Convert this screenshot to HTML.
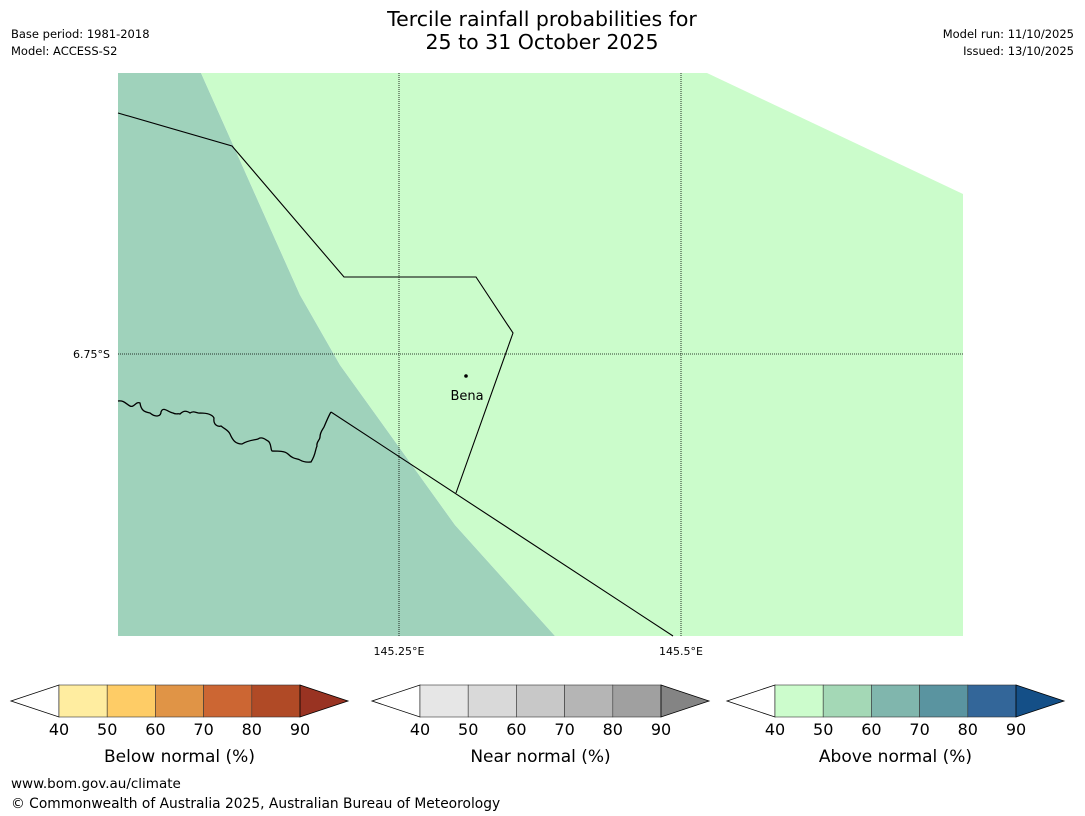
<!DOCTYPE html>
<html><head><meta charset="utf-8"><style>
html,body{margin:0;padding:0;background:#fff;width:1085px;height:816px;overflow:hidden}
svg{display:block;font-family:"DejaVu Sans","Liberation Sans",sans-serif}
</style></head><body>
<svg id="c" width="1085" height="816" viewBox="0 0 1085 816">
<text x="542" y="26" font-size="20.5" text-anchor="middle">Tercile rainfall probabilities for</text>
<text x="542" y="49" font-size="20.5" text-anchor="middle">25 to 31 October 2025</text>
<text x="11" y="38" font-size="11.5">Base period: 1981-2018</text>
<text x="11" y="55" font-size="11.5">Model: ACCESS-S2</text>
<text x="1074" y="38" font-size="11.5" text-anchor="end">Model run: 11/10/2025</text>
<text x="1074" y="55" font-size="11.5" text-anchor="end">Issued: 13/10/2025</text>

<g>
<polygon points="118,73 201,73 300,295 340,365 455,525 555,636 118,636" fill="#9fd2bb"/>
<polygon points="201,73 707,73 963,194 963,636 555,636 455,525 340,365 300,295" fill="#cbfccb"/>
<line x1="399" y1="73" x2="399" y2="636" stroke="#000" stroke-width="0.8" stroke-dasharray="1,1"/>
<line x1="681" y1="73" x2="681" y2="636" stroke="#000" stroke-width="0.8" stroke-dasharray="1,1"/>
<line x1="118" y1="354" x2="963" y2="354" stroke="#000" stroke-width="0.8" stroke-dasharray="1,1"/>
<polyline points="118,113 232,146 344,277 476,277 513,333 456,493" fill="none" stroke="#000" stroke-width="1.1"/>
<polyline points="331,412 673,636" fill="none" stroke="#000" stroke-width="1.1"/>
<path d="M118,401 C124,400 126,404 130,406 C134,408 136,401 140,403 C141,410 144,412 150,413 C156,418 161,416 161,412 C163,406 168,412 173,413 C177,415 178,413 180,414 C184,410 187,411 190,413 C194,410 198,414 200,413 C206,413 212,414 214,418 C213,425 218,427 221,426 C226,430 228,430 230,434 C233,441 236,444 242,444 C248,440 255,440 258,439 C262,436 266,440 268,441 C272,443 270,452 273,451 C278,451 285,451 288,454 C294,460 297,458 300,460 C305,463 309,462 311,462 C316,454 315,450 317,446 C316,442 320,440 320,437 C320,432 323,429 324,427 C327,420 329,415 331,412" fill="none" stroke="#000" stroke-width="1.3"/>
<circle cx="466" cy="376" r="1.8" fill="#000"/>
<text x="467" y="400" font-size="13" text-anchor="middle">Bena</text>
<text x="110" y="358" font-size="11" text-anchor="end">6.75°S</text>
<text x="399" y="655" font-size="11" text-anchor="middle">145.25°E</text>
<text x="681" y="655" font-size="11" text-anchor="middle">145.5°E</text>
</g>

<g id="bars"></g>

<text x="11" y="788" font-size="13.5">www.bom.gov.au/climate</text>
<text x="11" y="808" font-size="13.8">© Commonwealth of Australia 2025, Australian Bureau of Meteorology</text>
</svg>
<script>
const tickLabels = [40, 50, 60, 70, 80, 90];
const barTitles = ["Below normal (%)", "Near normal (%)", "Above normal (%)"];
const belowColors = ["#ffeda0", "#fecc66", "#e09446", "#cc6633", "#b04a26", "#993322"];
const nearColors = ["#e6e6e6", "#d9d9d9", "#c8c8c8", "#b5b5b5", "#a0a0a0", "#848484"];
const aboveColors = ["#ccfccc", "#a4d8b6", "#80b6ad", "#5a94a0", "#336699", "#144f87"];
const barStarts = [59, 420, 775];
const palettes = [belowColors, nearColors, aboveColors];
const svgNs = "http://www.w3.org/2000/svg";
const barGroup = document.getElementById("bars");
const cellW = 48.2, barTop = 685, barH = 32, tipW = 48;
function mk(tag, attrs){const e=document.createElementNS(svgNs,tag);for(const k in attrs)e.setAttribute(k,attrs[k]);return e;}
palettes.forEach((pal, bi) => {
  const x0 = barStarts[bi], x1 = x0 + cellW * (tickLabels.length - 1);
  const lt = mk("polygon", {points:`${x0-tipW},${barTop+barH/2} ${x0},${barTop} ${x0},${barTop+barH}`, fill:"#fff", stroke:"#000", "stroke-width":"0.8"});
  
  
  barGroup.appendChild(lt);
  for (let i = 0; i < tickLabels.length - 1; i++) {
    const r = mk("rect", {x: x0 + i*cellW, y: barTop, width: cellW, height: barH, fill: pal[i], stroke:"#333", "stroke-width":"0.6"});
    
    
    barGroup.appendChild(r);
  }
  const rt = mk("polygon", {points:`${x1},${barTop} ${x1+tipW},${barTop+barH/2} ${x1},${barTop+barH}`, fill: pal[pal.length-1], stroke:"#000", "stroke-width":"0.8"});
  
  
  barGroup.appendChild(rt);
  tickLabels.forEach((t, i) => {
    const tx = mk("text", {x: x0 + i*cellW, y: 735, "font-size": 16, "text-anchor": "middle"});
    tx.textContent = t;
    
    
    barGroup.appendChild(tx);
  });
  const ti = mk("text", {x: (x0 + x1)/2, y: 762, "font-size": 17, "text-anchor": "middle"});
  ti.textContent = barTitles[bi];
  
  
  barGroup.appendChild(ti);
});
</script>
</body></html>
